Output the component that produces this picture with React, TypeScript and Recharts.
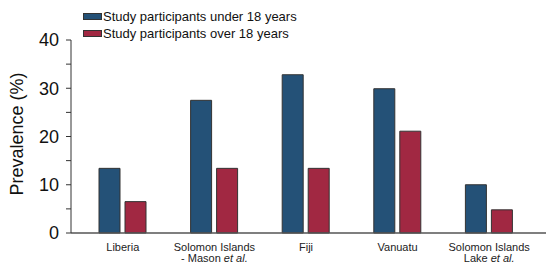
import React from "react";
import { BarChart, Bar, XAxis, YAxis } from "recharts";

// categories, each label split into lines (second part is italic)
const categories = ["Liberia", "Solomon Islands Mason", "Fiji", "Vanuatu", "Solomon Islands Lake"];
const labelLines = [
  [["Liberia", ""]],
  [["Solomon Islands", ""], ["- Mason ", "et al."]],
  [["Fiji", ""]],
  [["Vanuatu", ""]],
  [["Solomon Islands", ""], ["Lake ", "et al."]],
];
const under18 = [13.4, 27.5, 32.8, 29.9, 10.0];
const over18 = [6.5, 13.4, 13.4, 21.1, 4.8];
const yTicks = [0, 5, 10, 15, 20, 25, 30, 35, 40];

const BLUE = "#245177";
const RED = "#a12842";
const FONT = "'Liberation Sans', Arial, Helvetica, sans-serif";

const data = categories.map((name, i) => ({
  name,
  under: under18[i],
  over: over18[i],
}));

const CategoryTick = (props: any) => {
  const { x, y, payload } = props;
  const lines = labelLines[payload.index] || [[payload.value, ""]];
  return (
    <g>
      {lines.map((ln, i) => (
        <text
          key={i}
          x={x}
          y={y + 10 + i * 11}
          textAnchor="middle"
          fontSize={11}
          fontFamily={FONT}
          fill="#222"
        >
          {ln[0]}
          {ln[1] ? <tspan fontStyle="italic">{ln[1]}</tspan> : null}
        </text>
      ))}
    </g>
  );
};

const legendItems = [
  { label: "Study participants under 18 years", color: BLUE },
  { label: "Study participants over 18 years", color: RED },
];

// legend drawn as an overlay so it does not shrink the plot area
const LegendBox = () => (
  <div
    style={{
      position: "absolute",
      left: 83,
      top: 8,
      fontFamily: FONT,
      fontSize: 13,
      color: "#111",
      lineHeight: "17px",
    }}
  >
    {legendItems.map((it) => (
      <div key={it.label} style={{ display: "flex", alignItems: "center" }}>
        <span
          style={{
            display: "inline-block",
            width: 17,
            height: 5,
            background: it.color,
            border: "1px solid #333",
            marginRight: 1,
          }}
        />
        {it.label}
      </div>
    ))}
  </div>
);

export default function App() {
  return (
    <div style={{ position: "absolute", left: 0, top: 0, width: 546, height: 263, background: "#fff" }}>
      <BarChart
        width={546}
        height={263}
        data={data}
        margin={{ top: 40, right: 0, bottom: 0, left: 0 }}
        barSize={21}
        barGap={5}
      >
        <XAxis
          dataKey="name"
          axisLine={{ stroke: "#555", strokeWidth: 1.5 }}
          tickLine={false}
          tick={<CategoryTick />}
          interval={0}
          padding={{ left: 6, right: 11 }}
          height={30}
        />
        <YAxis
          width={71}
          domain={[0, 40]}
          ticks={yTicks}
          interval={0}
          tickFormatter={(v: number) => (v % 10 === 0 ? String(v) : "")}
          tick={{ fontSize: 18, fill: "#111", fontFamily: FONT }}
          tickSize={5}
          tickMargin={7}
          axisLine={{ stroke: "#333" }}
          tickLine={{ stroke: "#333" }}
          label={{
            content: () => (
              <text
                x={23}
                y={134}
                transform="rotate(-90 23 134)"
                textAnchor="middle"
                fontSize={18}
                fontFamily={FONT}
                fill="#111"
              >
                Prevalence (%)
              </text>
            ),
          }}
        />
        <Bar dataKey="under" fill={BLUE} stroke="#333" strokeWidth={1} isAnimationActive={false} />
        <Bar dataKey="over" fill={RED} stroke="#333" strokeWidth={1} isAnimationActive={false} />
      </BarChart>
      <LegendBox />
    </div>
  );
}
